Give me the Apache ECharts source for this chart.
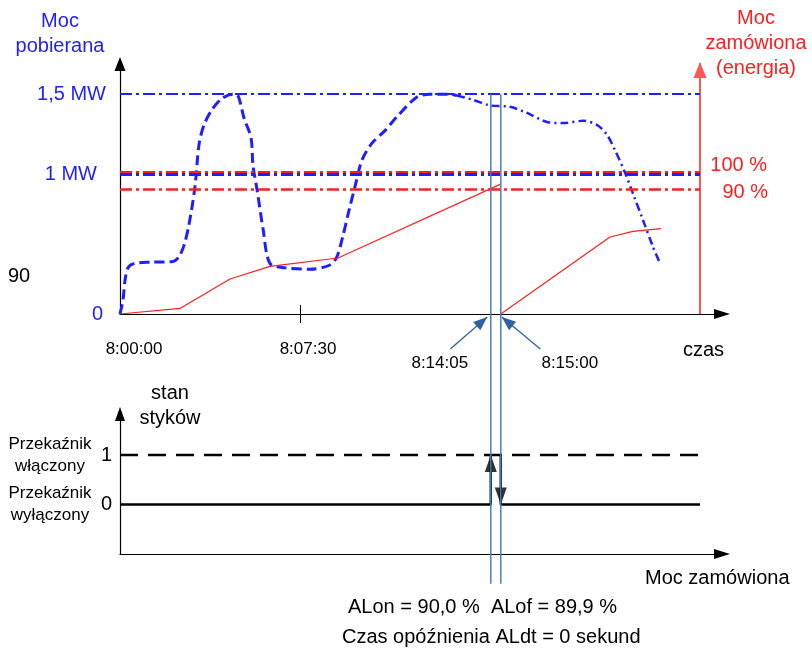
<!DOCTYPE html>
<html><head><meta charset="utf-8">
<script src="https://cdn.jsdelivr.net/npm/echarts@6/dist/echarts.min.js"></script>
<style>html,body{margin:0;padding:0;background:#fff}#c{width:812px;height:648px}</style>
</head><body><div id="c"></div>
<script>
// ---- DATA (schematic units: time in seconds after 8:00:00, power in % of 1 MW) ----
const pobDashT = [0,7.5,12.5,20,35,75,132.5,147.5,160,172.5,187.5,197.5,210,230,255,282.5,295,310,327.5,332.5,342.5,357.5,375,412.5,475,525,542.5,557.5,572.5,587.5,605,630,662.5,692.5,742.5,775,825,842.5];
const pobDashV = [0,10,24,33,36,37,37.5,41,49,64,91,121,135,146,154,157,156,140,126,106,89,61,36,33,32,35,41,56,74,91,110,122,131,141,155,157,157,156];
const pobDotT = [842.5,882.5,925,975,1017.5,1070,1107.5,1157.5,1192.5,1217.5,1237.5,1262.5,1282.5,1307.5,1332.5,1350];
const pobDotV = [156,153,149,148,143.6,137,136.4,138,135,128,117,101,86,67,48,36];
const energyT1 = [0,150,275,375,545,950];
const energyV1 = [0,4,25,34,40,92.6];
const energyT2 = [952,1225,1282.5,1352.5];
const energyV2 = [0,55,59,61];
const levelNames = ['1,5 MW','1 MW','100 %','90 %'];
const levelValues = [157,100,101,89];
const yTickValues = [0,100,157];
const yTickLabels = ['0','1 MW','1,5 MW'];
const xTickValues = [0,450];
const xTickLabels = ['8:00:00','8:07:30'];
const switchTimes = [927,952];
const switchLabels = ['8:14:05','8:15:00'];
const relayHighT = [0,1450];
const relayHighV = [1,1];
const relayLowT1 = [0,927,927];
const relayLowV1 = [0,0,1];
const relayLowT2 = [952,952,1450];
const relayLowV2 = [1,0,0];
const relayTickValues = [0,1];
const relayStateLabels = ['Przekaźnik\nwyłączony','Przekaźnik\nwłączony'];
const T_END = 1450;
const X_MAX = 1505;

const C = {blue:'#1e1eff', red:'#ff1e1e', redAxis:'#ff5555', steel:'#4a7ebb', arrow:'#2f60a0', black:'#000'};
const F = '"Liberation Sans", Arial, Helvetica, sans-serif';
const zip = (a,b) => a.map((t,i)=>[t,b[i]]);
const hline = (v,color,width,type) => [{coord:[0,v], lineStyle:{color,width,type}},{coord:[T_END,v]}];

const chart = echarts.init(document.getElementById('c'), null, {width:812, height:648});
const axisBase = {type:'value', min:0, max:X_MAX, splitLine:{show:false}};
const yPad = [3,9,0];

chart.setOption({
  animation:false,
  textStyle:{fontFamily:F},
  grid:[
    {left:120, top:64, width:602, height:250, outerBoundsMode:'none', containLabel:false},
    {left:120, top:414, width:602, height:140, outerBoundsMode:'none', containLabel:false}
  ],
  xAxis:[
    Object.assign({}, axisBase, {gridIndex:0,
      axisLine:{show:true,onZero:false,symbol:['none','triangle'],symbolSize:[10,16],lineStyle:{color:C.black,width:1.2}},
      axisTick:{show:true,customValues:[xTickValues[1]],length:9,lineStyle:{color:C.black,width:1}},
      axisLabel:{customValues:xTickValues, margin:27, fontSize:17, color:C.black, fontFamily:F,
        formatter:(v)=>{const i=xTickValues.indexOf(v); return '{s'+i+'|'+xTickLabels[i]+'}';},
        rich:{s0:{padding:[0,0,0,28],fontSize:17,color:C.black,fontFamily:F}, s1:{padding:[0,0,0,16],fontSize:17,color:C.black,fontFamily:F}}},
      name:'czas', nameLocation:'end', nameGap:-39,
      nameTextStyle:{fontSize:20,color:C.black,fontFamily:F,align:'left',verticalAlign:'top',padding:[26,0,0,0]}}),
    Object.assign({}, axisBase, {gridIndex:1,
      axisLine:{show:true,onZero:false,symbol:['none','triangle'],symbolSize:[10,16],lineStyle:{color:C.black,width:1.2}},
      axisTick:{show:false}, axisLabel:{show:false},
      name:'Moc zamówiona', nameLocation:'end', nameGap:-77,
      nameTextStyle:{fontSize:20,color:C.black,fontFamily:F,align:'left',verticalAlign:'top',padding:[14,0,0,0]}})
  ],
  yAxis:[
    {gridIndex:0, type:'value', min:0, max:250/1.4, splitLine:{show:false},
      axisLine:{show:true,onZero:false,symbol:['none','triangle'],symbolSize:[11,14],lineStyle:{color:C.black,width:1.2}},
      axisTick:{show:false},
      axisLabel:{customValues:yTickValues, margin:14, fontSize:20, color:C.blue, fontFamily:F,
        formatter:(v)=>{const i=yTickValues.indexOf(v); return '{y'+i+'|'+yTickLabels[i]+'}';},
        rich:{
          y0:{padding:[0,yPad[0],0,0],fontSize:20,color:C.blue,fontFamily:F},
          y1:{padding:[0,yPad[1],0,0],fontSize:20,color:C.blue,fontFamily:F},
          y2:{padding:[0,yPad[2],0,0],fontSize:20,color:C.blue,fontFamily:F}}},
      name:'Moc\npobierana', nameLocation:'end', nameGap:5,
      nameTextStyle:{fontSize:20,lineHeight:25,color:C.blue,fontFamily:F,align:'center',verticalAlign:'bottom',padding:[0,120,0,0]}},
    {gridIndex:0, type:'value', position:'right', offset:-22, min:0, max:250/1.4, splitLine:{show:false},
      axisLine:{show:true,onZero:false,symbol:['none','triangle'],symbolSize:[13,16],symbolOffset:[0,-6],lineStyle:{color:C.redAxis,width:2}},
      axisTick:{show:false}, axisLabel:{show:false},
      name:'Moc\nzamówiona\n(energia)', nameLocation:'end', nameGap:-16.5,
      nameTextStyle:{fontSize:20,lineHeight:25,color:C.red,fontFamily:F,align:'center',verticalAlign:'bottom',padding:[0,0,0,112]}},
    {gridIndex:1, type:'value', min:-1, max:-1+140/49.5, splitLine:{show:false},
      axisLine:{show:true,onZero:false,symbol:['none','triangle'],symbolSize:[10,14],lineStyle:{color:C.black,width:1.2}},
      axisTick:{show:false},
      axisLabel:{customValues:relayTickValues, margin:8, fontSize:20, color:C.black, fontFamily:F, formatter:(v)=>String(v)},
      name:'stan\nstyków', nameLocation:'end', nameGap:-16.5,
      nameTextStyle:{fontSize:20,lineHeight:25,color:C.black,fontFamily:F,align:'center',verticalAlign:'bottom',padding:[0,0,0,100]}}
  ],
  series:[
    {name:'poziomy', type:'line', xAxisIndex:0, yAxisIndex:0, data:[], silent:true, clip:false,
      markLine:{silent:true, symbol:'none', label:{show:false}, animation:false, emphasis:{disabled:true},
        data:[
          hline(levelValues[0], C.blue, 2, [12,4,3,4]),
          hline(levelValues[2], C.red, 3, [12,4,3,4]),
          hline(levelValues[1], C.blue, 3, [12,4,3,4]),
          hline(levelValues[3], C.red, 2.5, [12,4,3,4]),
          [{coord:[xTickValues[1],0], lineStyle:{color:C.black,width:1,type:'solid'}},{coord:[xTickValues[1],6.5]}]
        ]}},
    {name:'Moc pobierana', type:'line', xAxisIndex:0, yAxisIndex:0, data:zip(pobDashT,pobDashV), smooth:0.3,
      showSymbol:false, lineStyle:{color:C.blue,width:3,type:[10,5]}, silent:true},
    {name:'Moc pobierana (cd.)', type:'line', xAxisIndex:0, yAxisIndex:0, data:zip(pobDotT,pobDotV), smooth:0.3,
      showSymbol:false, lineStyle:{color:C.blue,width:2.5,type:[8,4,2,4]}, silent:true},
    {name:'Energia 1', type:'line', xAxisIndex:0, yAxisIndex:0, data:zip(energyT1,energyV1),
      showSymbol:false, lineStyle:{color:C.red,width:1.2}, silent:true},
    {name:'Energia 2', type:'line', xAxisIndex:0, yAxisIndex:0, data:zip(energyT2,energyV2),
      showSymbol:false, lineStyle:{color:C.red,width:1.2}, silent:true},
    {name:'Przekaźnik 1', type:'line', xAxisIndex:1, yAxisIndex:2, data:zip(relayHighT,relayHighV),
      showSymbol:false, lineStyle:{color:C.black,width:2.5,type:[18,10]}, silent:true},
    {name:'Stan a', type:'line', xAxisIndex:1, yAxisIndex:2, data:zip(relayLowT1,relayLowV1),
      showSymbol:false, lineStyle:{color:C.black,width:2.5}, silent:true},
    {name:'Stan b', type:'line', xAxisIndex:1, yAxisIndex:2, data:zip(relayLowT2,relayLowV2),
      showSymbol:false, lineStyle:{color:C.black,width:2.5}, silent:true},
    {name:'Załącz', type:'scatter', xAxisIndex:1, yAxisIndex:2, data:[[switchTimes[0],1]],
      symbol:'triangle', symbolSize:[12,17], symbolOffset:[0,'50%'], itemStyle:{color:C.black}, silent:true},
    {name:'Wyłącz', type:'scatter', xAxisIndex:1, yAxisIndex:2, data:[[switchTimes[1],0]],
      symbol:'path://M0,0L12,0L6,17Z', symbolSize:[12,17], symbolOffset:[0,'-50%'], itemStyle:{color:C.black}, silent:true}
  ]
});

// ---- annotations positioned through the chart's own scales ----
const p = (xi, yi, t, v) => chart.convertToPixel({xAxisIndex:xi, yAxisIndex:yi}, [t, v]);
const y0 = p(0,0,0,0)[1];
const g = [];
function txt(x,y,text,opts){ g.push({type:'text', x, y, silent:true, style:Object.assign({text, fill:C.black, fontSize:20, fontFamily:F, align:'center', verticalAlign:'middle'}, opts||{})}); }
function arrow(x1,y1,x2,y2,color){
  g.push({type:'line', silent:true, shape:{x1,y1,x2,y2}, style:{stroke:color, lineWidth:1.3}});
  const dx=x2-x1, dy=y2-y1, L=Math.hypot(dx,dy), ux=dx/L, uy=dy/L;
  const bx=x2-ux*14, by=y2-uy*14, nx=-uy*5.5, ny=ux*5.5;
  g.push({type:'polygon', silent:true, shape:{points:[[x2,y2],[bx+nx,by+ny],[bx-nx,by-ny]]}, style:{fill:color}});
}
switchTimes.forEach((t,i)=>{
  const x = p(0,0,t,0)[0];
  const yTop = p(0,0,t,levelValues[0])[1];
  const yBot = p(1,2,t,-1.6)[1];
  g.push({type:'line', silent:true, z:5, shape:{x1:x,y1:yTop,x2:x,y2:yBot}, style:{stroke:C.steel, lineWidth:1.5}});
  if (i===0){ arrow(x-40.5, y0+35, x-3.5, y0+3, C.arrow); txt(x-51, y0+49, switchLabels[i], {fontSize:17}); }
  else { arrow(x+39.5, y0+35, x+1, y0+3, C.arrow); txt(x+69, y0+49, switchLabels[i], {fontSize:17}); }
});
// percentage labels at the right of the ordered-power lines
txt(767, p(0,0,0,levelValues[2])[1]-7, levelNames[2], {fill:C.red, align:'right'});
txt(768, p(0,0,0,levelValues[3])[1]+3, levelNames[3], {fill:C.red, align:'right'});
// stray "90" label at the left
txt(8, 276, '90', {align:'left'});
// relay state descriptions
relayTickValues.forEach((v,i)=>{ txt(50, p(1,2,0,v)[1], relayStateLabels[i], {fontSize:17, lineHeight:22}); });
// parameter captions
txt(348, 607, 'ALon = 90,0 %  ALof = 89,9 %', {align:'left'});
txt(342, 637, 'Czas opóźnienia ALdt = 0 sekund', {align:'left'});
chart.setOption({graphic:g});
</script>
</body></html>
